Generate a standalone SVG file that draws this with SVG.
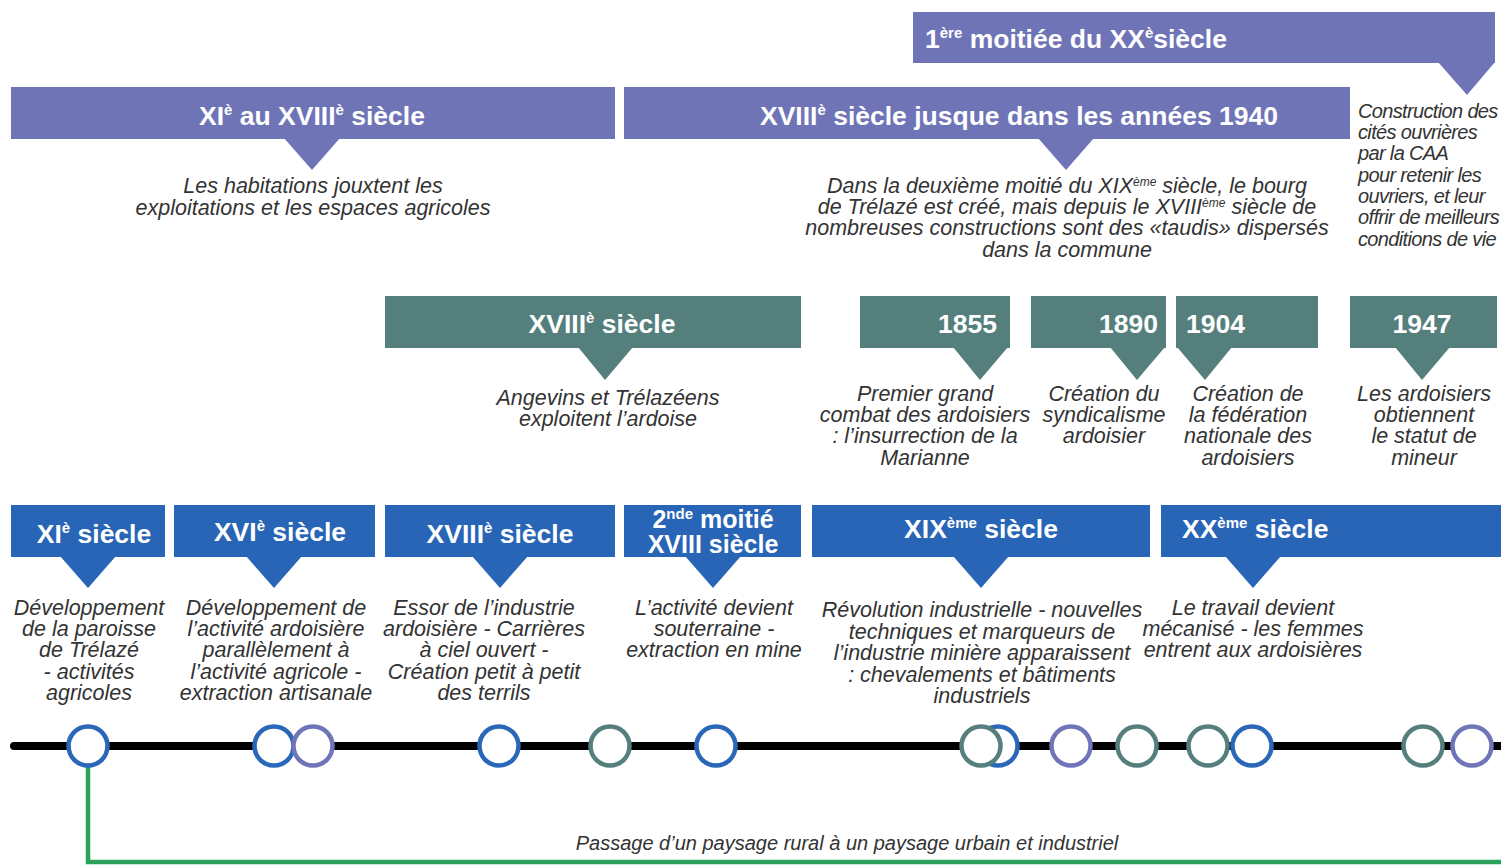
<svg xmlns="http://www.w3.org/2000/svg" width="1501" height="865" viewBox="0 0 1501 865">
<style>
.pu{fill:#6F74B7}
.gr{fill:#557F7C}
.bl{fill:#2865B6}
.h{font-family:"Liberation Sans",Arial,sans-serif;font-weight:bold;font-size:26.5px;fill:#fff}
.d{font-family:"Liberation Sans",Arial,sans-serif;font-style:italic;font-size:21.5px;fill:#333}
.c{text-anchor:middle}
.n{font-family:"Liberation Sans",Arial,sans-serif;font-style:italic;font-size:20px;fill:#333;letter-spacing:-0.65px}
.s{font-size:15px}
.ds{font-size:12px}
.pt{fill:#fff;stroke-width:4.5}
.pb{stroke:#2A67B8}
.pp{stroke:#7074B8}
.pg{stroke:#557F7C}
</style>
<rect width="1501" height="865" fill="#fff"/>
<g id="connectors">
<line x1="14" y1="746" x2="1501" y2="746" stroke="#000" stroke-width="8" stroke-linecap="round"/>
<polyline points="88,766 88,862 1501,862" fill="none" stroke="#2BA25A" stroke-width="4.5"/>
</g>
<g id="p-top">
<rect class="pu" x="913" y="12" width="582" height="51"/>
<polygon class="pu" points="1438,62 1495,62 1467,95"/>
<text class="h" x="925" y="48">1<tspan class="s" dy="-10">ère</tspan><tspan dy="10"> moitiée du XX</tspan><tspan class="s" dy="-10">è</tspan><tspan dy="10">siècle</tspan></text>
<text class="n" x="1358" y="118">Construction des</text>
<text class="n" x="1358" y="139">cités ouvrières</text>
<text class="n" x="1358" y="160">par la CAA</text>
<text class="n" x="1358" y="182">pour retenir les</text>
<text class="n" x="1358" y="203">ouvriers, et leur</text>
<text class="n" x="1358" y="224">offrir de meilleurs</text>
<text class="n" x="1358" y="246">conditions de vie</text>
</g>
<g id="p-1">
<rect class="pu" x="11" y="87" width="604" height="52"/>
<polygon class="pu" points="284,138 340,138 312,170"/>
<text class="h c" x="312" y="125">XI<tspan class="s" dy="-10">è</tspan><tspan dy="10"> au XVIII</tspan><tspan class="s" dy="-10">è</tspan><tspan dy="10"> siècle</tspan></text>
<text class="d c" x="313" y="193">Les habitations jouxtent les</text>
<text class="d c" x="313" y="215">exploitations et les espaces agricoles</text>
</g>
<g id="p-2">
<rect class="pu" x="624" y="87" width="726" height="52"/>
<polygon class="pu" points="1038,138 1094,138 1066,170"/>
<text class="h c" x="1019" y="125">XVIII<tspan class="s" dy="-10">è</tspan><tspan dy="10"> siècle jusque dans les années 1940</tspan></text>
<text class="d c" x="1067" y="193">Dans la deuxième moitié du XIX<tspan class="ds" dy="-7">ème</tspan><tspan dy="7"> siècle,  le bourg</tspan></text>
<text class="d c" x="1067" y="214">de Trélazé est créé, mais depuis le XVIII<tspan class="ds" dy="-7">ème</tspan><tspan dy="7"> siècle de</tspan></text>
<text class="d c" x="1067" y="235">nombreuses constructions sont des «taudis» dispersés</text>
<text class="d c" x="1067" y="257">dans la commune</text>
</g>
<g id="g-1">
<rect class="gr" x="385" y="296" width="416" height="52"/>
<polygon class="gr" points="578,347 633,347 605,380"/>
<text class="h c" x="602" y="333">XVIII<tspan class="s" dy="-10">è</tspan><tspan dy="10"> siècle</tspan></text>
<text class="d c" x="608" y="405">Angevins et Trélazéens</text>
<text class="d c" x="608" y="426">exploitent l’ardoise</text>
</g>
<g id="g-1855">
<rect class="gr" x="860" y="296" width="150" height="52"/>
<polygon class="gr" points="953,347 1008,347 980,380"/>
<text class="h" x="997" y="333" text-anchor="end">1855</text>
<text class="d c" x="925" y="401">Premier grand</text>
<text class="d c" x="925" y="422">combat des ardoisiers</text>
<text class="d c" x="925" y="443">: l’insurrection de la</text>
<text class="d c" x="925" y="465">Marianne</text>
</g>
<g id="g-1890">
<rect class="gr" x="1031" y="296" width="135" height="52"/>
<polygon class="gr" points="1110,347 1165,347 1137,380"/>
<text class="h" x="1158" y="333" text-anchor="end">1890</text>
<text class="d c" x="1104" y="401">Création du</text>
<text class="d c" x="1104" y="422">syndicalisme</text>
<text class="d c" x="1104" y="443">ardoisier</text>
</g>
<g id="g-1904">
<rect class="gr" x="1176" y="296" width="142" height="52"/>
<polygon class="gr" points="1177,347 1232,347 1205,380"/>
<text class="h" x="1186" y="333">1904</text>
<text class="d c" x="1248" y="401">Création de</text>
<text class="d c" x="1248" y="422">la fédération</text>
<text class="d c" x="1248" y="443">nationale des</text>
<text class="d c" x="1248" y="465">ardoisiers</text>
</g>
<g id="g-1947">
<rect class="gr" x="1350" y="296" width="147" height="52"/>
<polygon class="gr" points="1395,347 1450,347 1422,380"/>
<text class="h c" x="1422" y="333">1947</text>
<text class="d c" x="1424" y="401">Les ardoisiers</text>
<text class="d c" x="1424" y="422">obtiennent</text>
<text class="d c" x="1424" y="443">le statut de</text>
<text class="d c" x="1424" y="465">mineur</text>
</g>
<g id="b-11">
<rect class="bl" x="11" y="505" width="154" height="52"/>
<polygon class="bl" points="60,556 116,556 88,588"/>
<text class="h c" x="94" y="543">XI<tspan class="s" dy="-10">è</tspan><tspan dy="10"> siècle</tspan></text>
<text class="d c" x="89" y="615">Développement</text>
<text class="d c" x="89" y="636">de la paroisse</text>
<text class="d c" x="89" y="657">de Trélazé</text>
<text class="d c" x="89" y="679">- activités</text>
<text class="d c" x="89" y="700">agricoles</text>
</g>
<g id="b-16">
<rect class="bl" x="174" y="505" width="201" height="52"/>
<polygon class="bl" points="246,556 302,556 274,588"/>
<text class="h c" x="280" y="541">XVI<tspan class="s" dy="-10">è</tspan><tspan dy="10"> siècle</tspan></text>
<text class="d c" x="276" y="615">Développement de</text>
<text class="d c" x="276" y="636">l’activité ardoisière</text>
<text class="d c" x="276" y="657">parallèlement à</text>
<text class="d c" x="276" y="679">l’activité agricole -</text>
<text class="d c" x="276" y="700">extraction artisanale</text>
</g>
<g id="b-18">
<rect class="bl" x="385" y="505" width="230" height="52"/>
<polygon class="bl" points="472,556 528,556 500,588"/>
<text class="h c" x="500" y="543">XVIII<tspan class="s" dy="-10">è</tspan><tspan dy="10"> siècle</tspan></text>
<text class="d c" x="484" y="615">Essor de l’industrie</text>
<text class="d c" x="484" y="636">ardoisière - Carrières</text>
<text class="d c" x="484" y="657">à ciel ouvert -</text>
<text class="d c" x="484" y="679">Création petit à petit</text>
<text class="d c" x="484" y="700">des terrils</text>
</g>
<g id="b-18b">
<rect class="bl" x="624" y="505" width="177" height="52"/>
<polygon class="bl" points="685,556 741,556 713,588"/>
<text class="h c" style="font-size:25px"><tspan x="713" y="528">2<tspan class="s" dy="-9">nde</tspan><tspan dy="9"> moitié</tspan></tspan><tspan x="713" y="553">XVIII siècle</tspan></text>
<text class="d c" x="714" y="615">L’activité devient</text>
<text class="d c" x="714" y="636">souterraine -</text>
<text class="d c" x="714" y="657">extraction en mine</text>
</g>
<g id="b-19">
<rect class="bl" x="812" y="505" width="338" height="52"/>
<polygon class="bl" points="953,556 1009,556 981,588"/>
<text class="h c" x="981" y="538">XIX<tspan class="s" dy="-10">ème</tspan><tspan dy="10"> siècle</tspan></text>
<text class="d c" x="982" y="617">Révolution industrielle - nouvelles</text>
<text class="d c" x="982" y="639">techniques et marqueurs de</text>
<text class="d c" x="982" y="660">l’industrie minière apparaissent</text>
<text class="d c" x="982" y="682">: chevalements et bâtiments</text>
<text class="d c" x="982" y="703">industriels</text>
</g>
<g id="b-20">
<rect class="bl" x="1161" y="505" width="340" height="52"/>
<polygon class="bl" points="1225,556 1281,556 1253,588"/>
<text class="h" x="1182" y="538">XX<tspan class="s" dy="-10">ème</tspan><tspan dy="10"> siècle</tspan></text>
<text class="d c" x="1253" y="615">Le travail devient</text>
<text class="d c" x="1253" y="636">mécanisé - les femmes</text>
<text class="d c" x="1253" y="657">entrent aux ardoisières</text>
</g>
<g id="timeline-points">
<circle class="pt pb" cx="88" cy="746" r="19.5"/>
<circle class="pt pb" cx="274" cy="746" r="19.5"/>
<circle class="pt pp" cx="313" cy="746" r="19.5"/>
<circle class="pt pb" cx="499" cy="746" r="19.5"/>
<circle class="pt pg" cx="610" cy="746" r="19.5"/>
<circle class="pt pb" cx="716" cy="746" r="19.5"/>
<circle class="pt pb" cx="998" cy="746" r="19.5"/>
<circle class="pt pg" cx="981" cy="746" r="19.5"/>
<circle class="pt pp" cx="1071" cy="746" r="19.5"/>
<circle class="pt pg" cx="1137" cy="746" r="19.5"/>
<circle class="pt pg" cx="1208" cy="746" r="19.5"/>
<circle class="pt pb" cx="1252" cy="746" r="19.5"/>
<circle class="pt pg" cx="1423" cy="746" r="19.5"/>
<circle class="pt pp" cx="1472" cy="746" r="19.5"/>
</g>
<g id="caption">
<text class="d c" x="847" y="850" style="font-size:20px">Passage d’un paysage rural à un paysage urbain et industriel</text>
</g>
</svg>
